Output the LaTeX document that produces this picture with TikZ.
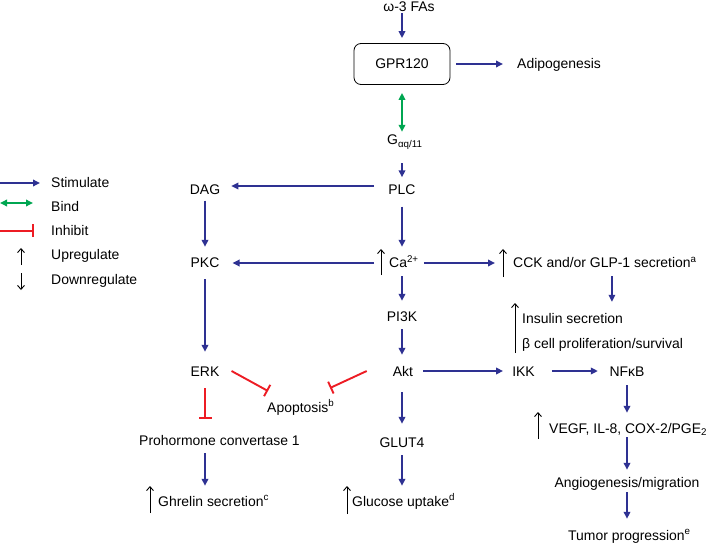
\documentclass[tikz,border=0pt]{standalone}
\usepackage{fontspec}
\setmainfont{Liberation Sans}
\usetikzlibrary{arrows.meta}
\definecolor{sblue}{RGB}{46,49,146}
\definecolor{sgreen}{RGB}{0,166,81}
\definecolor{sred}{RGB}{237,28,36}
\begin{document}
\begin{tikzpicture}[x=1bp,y=-1bp,
  txt/.style={inner sep=0pt,text height=10bp,text depth=0pt,font=\fontsize{14}{17}\selectfont},
  stim/.style={draw=sblue,line width=1.9bp,-{Triangle[length=7bp,width=6.5bp]}},
  bind/.style={draw=sgreen,line width=1.9bp,{Triangle[length=7bp,width=6.5bp]}-{Triangle[length=7bp,width=6.5bp]}},
  inhib/.style={draw=sred,line width=1.9bp,-{Bar[width=13bp]}},
  uparr/.style={draw=black,line width=0.9bp,-{Straight Barb[length=4bp,width=7bp]}},
]
\useasboundingbox (0,0) rectangle (709,543);

% ---------- nodes ----------
\node[txt] (fa) at (409,6.5) {ω-3 FAs};
\node[txt,draw=black,line width=0.8bp,rounded corners=7bp,minimum width=96bp,minimum height=41bp] (gpr) at (402,64) {GPR120};
\node[txt,anchor=west] (adip) at (517,64) {Adipogenesis};
\node[txt,anchor=west] (g) at (387,140) {G\textsubscript{αq/11}};
\node[txt] (plc) at (402,190) {PLC};
\node[txt] (dag) at (205,190) {DAG};
\node[txt] (pkc) at (205,263) {PKC};
\node[txt,anchor=west] (ca) at (389,263) {Ca\textsuperscript{2+}};
\node[txt,anchor=west] (cck) at (513,263) {CCK and/or GLP-1 secretion\textsuperscript{a}};
\node[txt,anchor=west] (ins) at (522,318) {Insulin secretion};
\node[txt,anchor=west] (beta) at (522,343) {β cell proliferation/survival};
\node[txt] (pi3k) at (402,316) {PI3K};
\node[txt] (akt) at (403,371) {Akt};
\node[txt] (ikk) at (523.5,371) {IKK};
\node[txt] (nfkb) at (627,371) {NFκB};
\node[txt,anchor=west] (vegf) at (549,428) {VEGF, IL-8, COX-2/PGE\textsubscript{2}};
\node[txt] (angio) at (627,482) {Angiogenesis/migration};
\node[txt,anchor=west] (tumor) at (568,535) {Tumor progression\textsuperscript{e}};
\node[txt] (erk) at (205,371) {ERK};
\node[txt,anchor=west] (apo) at (267,407) {Apoptosis\textsuperscript{b}};
\node[txt,anchor=west] (pc1) at (139,440) {Prohormone convertase 1};
\node[txt,anchor=west] (ghr) at (158,501) {Ghrelin secretion\textsuperscript{c}};
\node[txt] (glut) at (402,442) {GLUT4};
\node[txt,anchor=west] (glu) at (352,501) {Glucose uptake\textsuperscript{d}};

% legend
\node[txt,anchor=west] (lstim) at (51,183) {Stimulate};
\node[txt,anchor=west] (lbind) at (51,207) {Bind};
\node[txt,anchor=west] (linh) at (51,231) {Inhibit};
\node[txt,anchor=west] (lup) at (51,255) {Upregulate};
\node[txt,anchor=west] (ldown) at (51,279) {Downregulate};
\coordinate (ls0) at (0,183);
\coordinate (lb0) at (0,203);
\coordinate (li0) at (0,231);
\coordinate (lu0) at (21,265);
\coordinate (ld0) at (21,273);

% ---------- connectors ----------
\draw[stim,shorten <=1.5bp,shorten >=5bp] (fa.south -| gpr.north) -- (gpr.north);
\draw[stim,shorten <=6bp,shorten >=14bp] (gpr.east) -- (gpr.east -| adip.west);
\draw[bind,shorten <=8bp,shorten >=3bp] (gpr.south) -- (gpr.south |- g.north);
\draw[stim,shorten <=18bp,shorten >=7.5bp] (plc.north |- g.south) -- (plc.north);
\draw[stim,shorten <=14bp,shorten >=11bp] ([yshift=4bp]plc.west) -- ([yshift=4bp]dag.east);
\draw[stim,shorten <=5.5bp,shorten >=11bp] (dag.south) -- (pkc.north);
\draw[stim,shorten <=11.5bp,shorten >=11bp] (plc.south) -- (plc.south |- ca.north);
\draw[stim,shorten <=15bp,shorten >=13bp] (ca.west) -- (pkc.east);
\draw[stim,shorten <=5bp,shorten >=18bp] (ca.east) -- (cck.west);
\draw[stim,shorten <=8bp,shorten >=11bp] ([xshift=7bp]cck.south) -- ([xshift=7bp]cck.south |- ins.north);
\draw[stim,shorten <=8bp,shorten >=10bp] (pi3k.north |- ca.south) -- (pi3k.north);
\draw[stim,shorten <=8bp,shorten >=11bp] (pi3k.south) -- (pi3k.south |- akt.north);
\draw[stim,shorten <=10bp,shorten >=9bp] (akt.east) -- (ikk.west);
\draw[stim,shorten <=17bp,shorten >=11.5bp] (ikk.east) -- (nfkb.west);
\draw[stim,shorten <=9bp,shorten >=10bp] (nfkb.south) -- (nfkb.south |- vegf.north);
\draw[stim,shorten <=4bp,shorten >=7bp] (angio.north |- vegf.south) -- (angio.north);
\draw[stim,shorten <=5bp,shorten >=11bp] (angio.south) -- (angio.south |- tumor.north);
\draw[stim,shorten <=11bp,shorten >=14bp] (pkc.south) -- (erk.north);
\draw[inhib,shorten <=12bp,shorten >=16bp] (erk.south) -- (erk.south |- pc1.north);
\draw[inhib] ([xshift=12bp]erk.east) -- ([xshift=1bp,yshift=16bp]apo.west);
\draw[inhib] ([xshift=-26bp]akt.west) -- ([xshift=63bp,yshift=19bp]apo.west);
\draw[stim,shorten <=8bp,shorten >=10bp] (erk.south |- pc1.south) -- (erk.south |- ghr.north);
\draw[stim,shorten <=16bp,shorten >=13bp] (akt.south -| glut.north) -- (glut.north);
\draw[stim,shorten <=8bp,shorten >=10bp] (glut.south) -- (glut.south |- glu.north);

% up-regulation arrows
\draw[uparr] ([xshift=-8bp,yshift=-12bp]ca.west) -- ++(0,-26);
\draw[uparr] ([xshift=-10bp,yshift=-14bp]cck.west) -- ++(0,-28);
\draw[uparr] ([xshift=-7bp,yshift=-10bp]beta.west) -- ++(0,-50);
\draw[uparr] ([xshift=-8bp,yshift=-12bp]ghr.west) -- ++(0,-27);
\draw[uparr] ([xshift=-5bp,yshift=-13bp]glu.west) -- ++(0,-28);
\draw[uparr] ([xshift=-11bp,yshift=-11bp]vegf.west) -- ++(0,-27);

% legend symbols
\draw[stim,shorten >=11bp] (ls0) -- (lstim.west);
\draw[bind,shorten >=18bp] (lb0) -- (lb0 -| lbind.west);
\draw[inhib,shorten >=17bp] (li0) -- (linh.west);
\draw[uparr] (lu0) -- ++(0,-17);
\draw[uparr] (ld0) -- ++(0,17);
\end{tikzpicture}
\end{document}
